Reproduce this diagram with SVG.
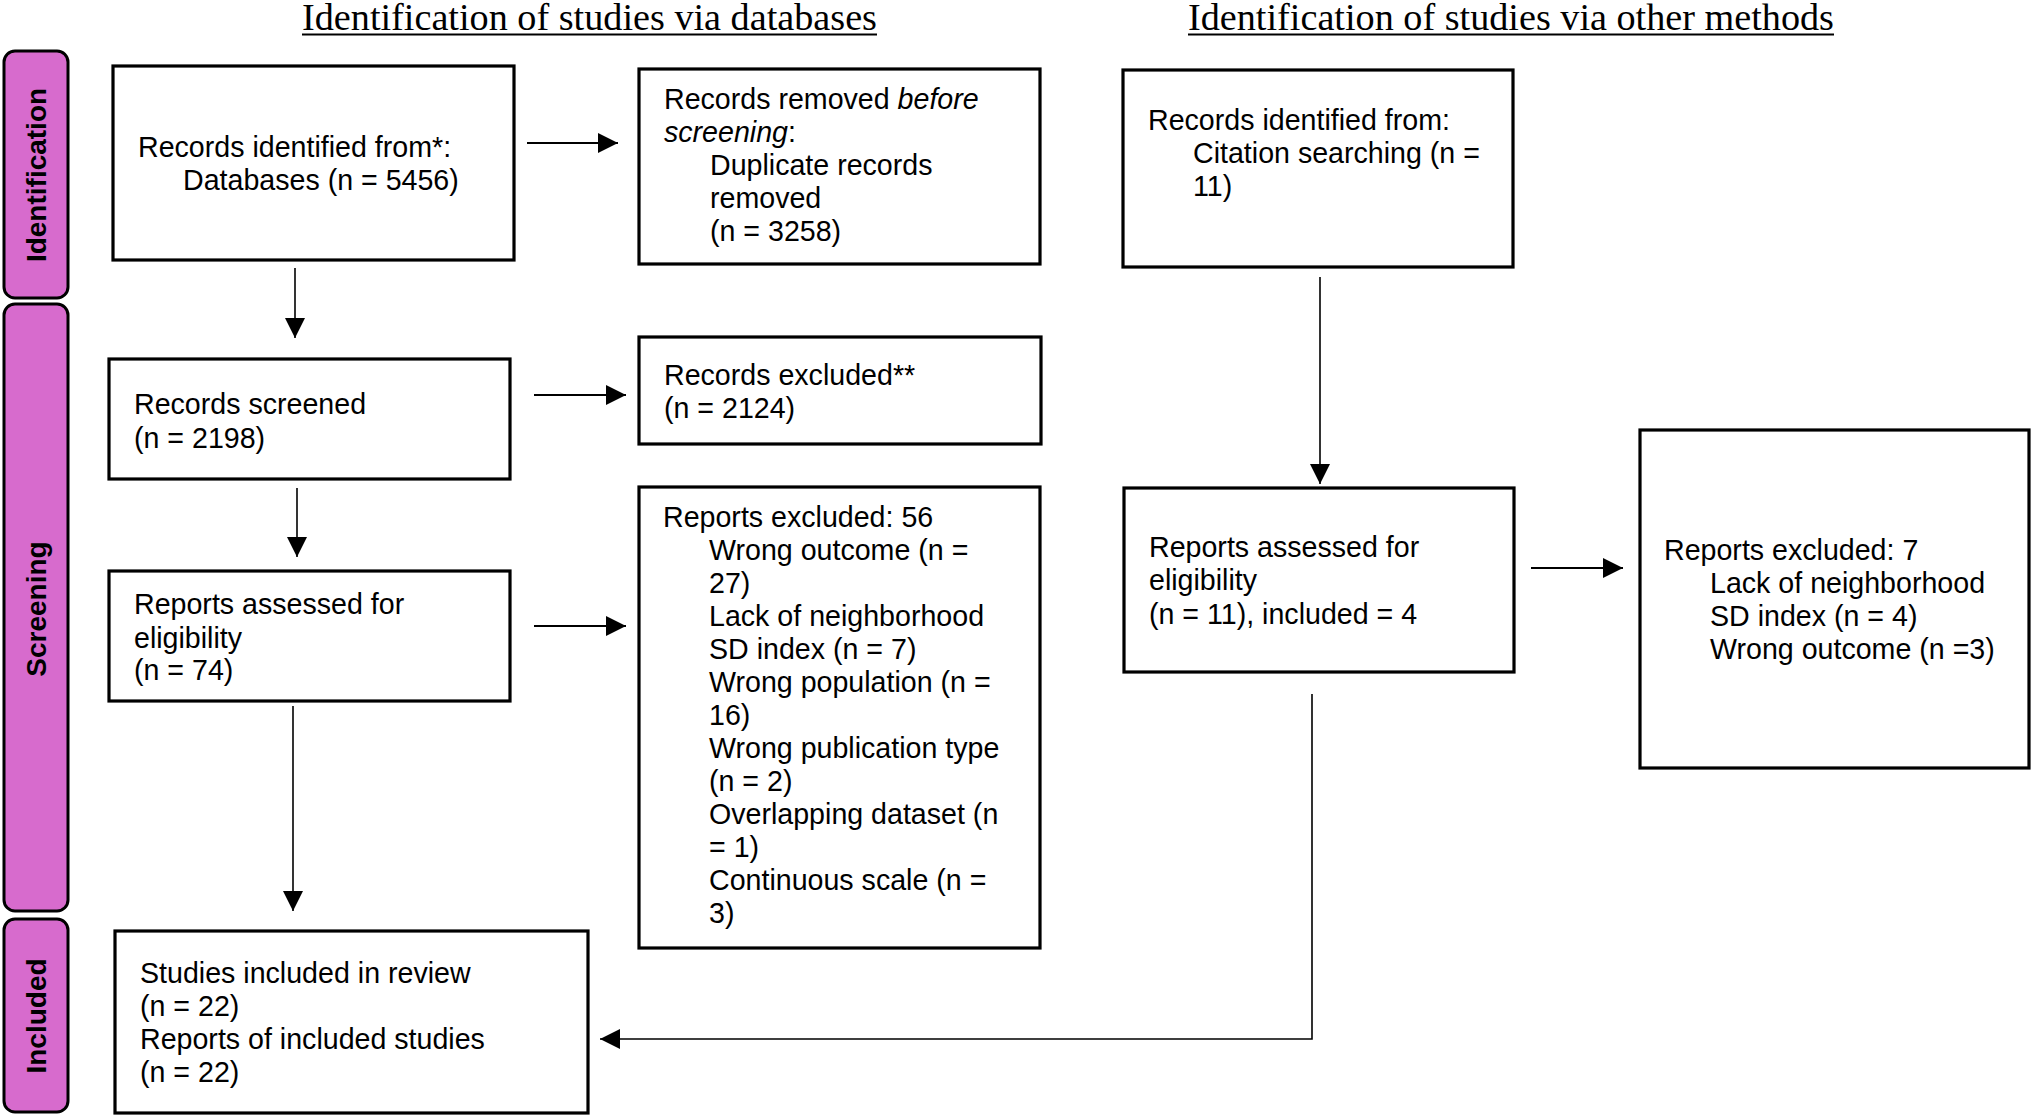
<svg xmlns="http://www.w3.org/2000/svg" width="2031" height="1115" viewBox="0 0 2031 1115">
<style>
.box{fill:#fff;stroke:#000;stroke-width:3.2}
.phase{fill:#D76BCD;stroke:#000;stroke-width:3}
.pt{font-family:"Liberation Sans",Arial,sans-serif;font-weight:bold;font-size:28px;fill:#000}
.t{font-family:"Liberation Sans",Arial,sans-serif;font-size:28.6px;fill:#000}
.ttl{font-family:"Liberation Serif","Times New Roman",serif;font-size:37px;fill:#000}
.h{stroke:#000;stroke-width:2.2;fill:none}
.v{stroke:#000;stroke-width:1.6;fill:none}
.ul{stroke:#000;stroke-width:1.8}
</style>
<defs>
<marker id="ah" markerUnits="userSpaceOnUse" markerWidth="20" markerHeight="20" refX="20" refY="10" orient="auto">
<path d="M0,0 L20,10 L0,20 z" fill="#000"/>
</marker>
</defs>
<rect width="2031" height="1115" fill="#fff"/>

<g id="titles">
<text class="ttl" x="302" y="30" textLength="575" lengthAdjust="spacingAndGlyphs">Identification of studies via databases</text>
<line class="ul" x1="302" y1="34.5" x2="877" y2="34.5"/>
<text class="ttl" x="1188" y="30" textLength="646" lengthAdjust="spacingAndGlyphs">Identification of studies via other methods</text>
<line class="ul" x1="1188" y1="34.5" x2="1834" y2="34.5"/>
</g>

<g id="phase-identification">
<rect class="phase" x="4" y="51" width="64" height="247" rx="11"/>
<text class="pt" transform="translate(46,175) rotate(-90)" text-anchor="middle">Identification</text>
</g>
<g id="phase-screening">
<rect class="phase" x="4" y="304" width="64" height="607" rx="11"/>
<text class="pt" transform="translate(46,609) rotate(-90)" text-anchor="middle">Screening</text>
</g>
<g id="phase-included">
<rect class="phase" x="4" y="919" width="64" height="193" rx="11"/>
<text class="pt" transform="translate(46,1016) rotate(-90)" text-anchor="middle">Included</text>
</g>

<g id="node-db-identified">
<rect class="box" x="113" y="66" width="401" height="194"/>
<text class="t"><tspan x="138" y="157">Records identified from*:</tspan><tspan x="183" y="190">Databases (n = 5456)</tspan></text>
</g>
<g id="node-removed">
<rect class="box" x="639" y="69" width="401" height="195"/>
<text class="t"><tspan x="664" y="109">Records removed <tspan font-style="italic">before</tspan></tspan><tspan x="664" y="142"><tspan font-style="italic">screening</tspan>:</tspan><tspan x="710" y="175">Duplicate records</tspan><tspan x="710" y="208">removed</tspan><tspan x="710" y="241">(n = 3258)</tspan></text>
</g>
<g id="node-other-identified">
<rect class="box" x="1123" y="70" width="390" height="197"/>
<text class="t"><tspan x="1148" y="130">Records identified from:</tspan><tspan x="1193" y="163">Citation searching (n =</tspan><tspan x="1193" y="196">11)</tspan></text>
</g>
<g id="node-screened">
<rect class="box" x="109" y="359" width="401" height="120"/>
<text class="t"><tspan x="134" y="414">Records screened</tspan><tspan x="134" y="448">(n = 2198)</tspan></text>
</g>
<g id="node-excluded">
<rect class="box" x="639" y="337" width="402" height="107"/>
<text class="t"><tspan x="664" y="385">Records excluded**</tspan><tspan x="664" y="418">(n = 2124)</tspan></text>
</g>
<g id="node-db-assessed">
<rect class="box" x="109" y="571" width="401" height="130"/>
<text class="t"><tspan x="134" y="614">Reports assessed for</tspan><tspan x="134" y="648">eligibility</tspan><tspan x="134" y="680">(n = 74)</tspan></text>
</g>
<g id="node-db-reports-excluded">
<rect class="box" x="639" y="487" width="401" height="461"/>
<text class="t"><tspan x="663" y="527">Reports excluded: 56</tspan><tspan x="709" y="560">Wrong outcome (n =</tspan><tspan x="709" y="593">27)</tspan><tspan x="709" y="626">Lack of neighborhood</tspan><tspan x="709" y="659">SD index (n = 7)</tspan><tspan x="709" y="692">Wrong population (n =</tspan><tspan x="709" y="725">16)</tspan><tspan x="709" y="758">Wrong publication type</tspan><tspan x="709" y="791">(n = 2)</tspan><tspan x="709" y="824">Overlapping dataset (n</tspan><tspan x="709" y="857">= 1)</tspan><tspan x="709" y="890">Continuous scale (n =</tspan><tspan x="709" y="923">3)</tspan></text>
</g>
<g id="node-other-assessed">
<rect class="box" x="1124" y="488" width="390" height="184"/>
<text class="t"><tspan x="1149" y="557">Reports assessed for</tspan><tspan x="1149" y="590">eligibility</tspan><tspan x="1149" y="624">(n = 11), included = 4</tspan></text>
</g>
<g id="node-other-reports-excluded">
<rect class="box" x="1640" y="430" width="389" height="338"/>
<text class="t"><tspan x="1664" y="560">Reports excluded: 7</tspan><tspan x="1710" y="593">Lack of neighborhood</tspan><tspan x="1710" y="626">SD index (n = 4)</tspan><tspan x="1710" y="659">Wrong outcome (n =3)</tspan></text>
</g>
<g id="node-included">
<rect class="box" x="115" y="931" width="473" height="182"/>
<text class="t"><tspan x="140" y="983">Studies included in review</tspan><tspan x="140" y="1016">(n = 22)</tspan><tspan x="140" y="1049">Reports of included studies</tspan><tspan x="140" y="1082">(n = 22)</tspan></text>
</g>

<g id="connectors">
<line class="h" x1="527" y1="143" x2="618" y2="143" marker-end="url(#ah)"/>
<line class="v" x1="295" y1="268" x2="295" y2="338" marker-end="url(#ah)"/>
<line class="h" x1="534" y1="395" x2="626" y2="395" marker-end="url(#ah)"/>
<line class="v" x1="297" y1="488" x2="297" y2="557" marker-end="url(#ah)"/>
<line class="h" x1="534" y1="626" x2="626" y2="626" marker-end="url(#ah)"/>
<line class="v" x1="293" y1="706" x2="293" y2="911" marker-end="url(#ah)"/>
<line class="v" x1="1320" y1="277" x2="1320" y2="484" marker-end="url(#ah)"/>
<line class="h" x1="1531" y1="568" x2="1623" y2="568" marker-end="url(#ah)"/>
<polyline class="v" points="1312,694 1312,1039 600,1039" marker-end="url(#ah)"/>
</g>
</svg>
